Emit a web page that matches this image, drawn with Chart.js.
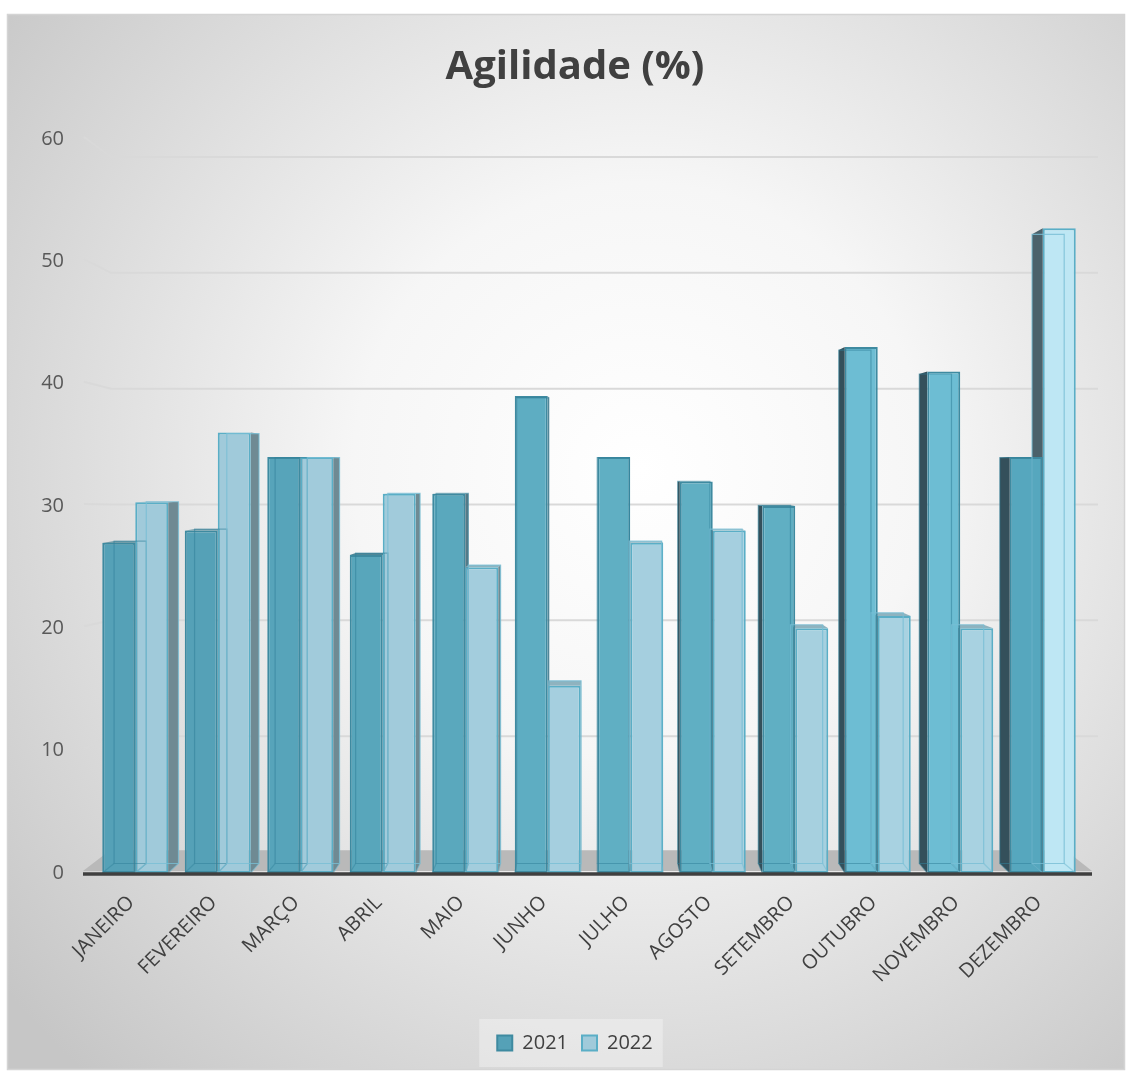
<!DOCTYPE html>
<html lang="pt">
<head>
<meta charset="utf-8">
<title>Agilidade (%)</title>
<script src="https://cdn.jsdelivr.net/npm/chart.js@4.4.1/dist/chart.umd.min.js"></script>
<style>
  html, body { margin: 0; padding: 0; background: #ffffff; }
  #wrap { position: relative; width: 1132px; height: 1075px; }
  canvas { display: block; }
</style>
</head>
<body>
<div id="wrap"><canvas id="chart" width="1132" height="1075"></canvas></div>
<script>
// Monthly agility figures (%)
const months = ['JANEIRO', 'FEVEREIRO', 'MARÇO', 'ABRIL', 'MAIO', 'JUNHO',
                'JULHO', 'AGOSTO', 'SETEMBRO', 'OUTUBRO', 'NOVEMBRO', 'DEZEMBRO'];
const seriesNames = ['2021', '2022'];
const values2021 = [27, 28, 34, 26, 31, 39, 34, 32, 30, 43, 41, 34];
const values2022 = [30.3, 36, 34, 31, 25, 15.3, 27, 28, 20, 21, 20, 52.7];
const yTicks = [0, 10, 20, 30, 40, 50, 60];

// Glass-like face colours, a little brighter where the light catches them
const face2021 = ['#55a1b7', '#55a1b7', '#57a4ba', '#58a6bb', '#5aa8bd', '#5eadc2',
                  '#60afc3', '#60afc3', '#60afc3', '#6dbdd3', '#6dbdd3', '#56a7be'];
const face2022 = ['#a0cada', '#a0cada', '#a1cbdb', '#a1cbdb', '#a3cddd', '#a5cfdf',
                  '#a5cfdf', '#a5cfdf', '#a6d0df', '#a8d2e1', '#a8d2e1', '#bee7f4'];
const edgeColors = ['#3e8aa0', '#5aaec6'];
const sideLeft = ['#34505b', '#4b626b'];
const sideRight = ['#557a87', '#6f8a93'];

const BAR_DEPTH = 0.976;   // back face scale of each bar
const WALL_DEPTH = 0.947;  // back wall / floor scale

function vanish(ca) {
  return { x: ca.left + 0.506 * (ca.right - ca.left), y: ca.top + 0.462 * (ca.bottom - ca.top) };
}
function proj(vp, px, py, k) {
  return [vp.x + (px - vp.x) * k, vp.y + (py - vp.y) * k];
}
function poly(ctx, pts, fill) {
  ctx.beginPath();
  ctx.moveTo(pts[0][0], pts[0][1]);
  for (let i = 1; i < pts.length; i++) ctx.lineTo(pts[i][0], pts[i][1]);
  ctx.closePath();
  ctx.fillStyle = fill;
  ctx.fill();
}

const scene3d = {
  id: 'scene3d',
  beforeDraw(chart) {
    const ctx = chart.ctx;
    ctx.save();
    ctx.fillStyle = '#ffffff';
    ctx.fillRect(0, 0, chart.width, chart.height);
    const fx = 7, fy = 14, fw = 1118, fh = 1056;
    const g = ctx.createRadialGradient(640, 470, 0, 640, 470, 820);
    g.addColorStop(0, '#ffffff');
    g.addColorStop(0.35, '#f6f6f6');
    g.addColorStop(1, '#c6c6c6');
    ctx.fillStyle = g;
    ctx.fillRect(fx, fy, fw, fh);
    ctx.strokeStyle = '#d4d4d4';
    ctx.lineWidth = 1.5;
    ctx.strokeRect(fx + 0.5, fy + 0.5, fw - 1, fh - 1);

    // soft panel behind the legend
    const hb = chart.legend && chart.legend.legendHitBoxes;
    if (hb && hb.length) {
      let minX = Infinity, maxX = -Infinity, minY = Infinity, maxY = -Infinity;
      hb.forEach(b => {
        minX = Math.min(minX, b.left); maxX = Math.max(maxX, b.left + b.width);
        minY = Math.min(minY, b.top); maxY = Math.max(maxY, b.top + b.height);
      });
      ctx.fillStyle = 'rgba(255,255,255,0.32)';
      ctx.fillRect(minX - 18, minY - 14, maxX - minX + 28, maxY - minY + 28);
    }
    ctx.restore();
  },
  beforeDatasetsDraw(chart) {
    const ctx = chart.ctx, ca = chart.chartArea, ys = chart.scales.y;
    const vp = vanish(ca);
    const xl = ca.left - 11, xr = ca.right + 8;
    ctx.save();

    // floor
    const fb = ca.bottom - 2;
    const bl = proj(vp, xl, fb, WALL_DEPTH), br = proj(vp, xr, fb, WALL_DEPTH);
    poly(ctx, [[xl, fb], [xr, fb], br, bl], '#b9b9b9');

    // back wall gridlines with a short side-wall stub
    ctx.strokeStyle = '#d9d9d9';
    ctx.lineWidth = 2;
    yTicks.forEach(v => {
      if (v === 0) return;
      const yf = ys.getPixelForValue(v);
      const b = proj(vp, xl + 1, yf, WALL_DEPTH);
      ctx.beginPath();
      ctx.moveTo(xl + 1, yf - 2);
      ctx.lineTo(b[0], b[1]);
      ctx.lineTo(ca.right + 14, b[1]);
      ctx.stroke();
    });

    // bar depth: side and top faces
    chart.data.datasets.forEach((ds, di) => {
      const meta = chart.getDatasetMeta(di);
      meta.data.forEach((el) => {
        const p = el.getProps(['x', 'y', 'base', 'width'], true);
        const x1 = p.x - p.width / 2, x2 = p.x + p.width / 2;
        const yt = p.y, yb = p.base;
        const a1 = proj(vp, x1, yt, BAR_DEPTH), a2 = proj(vp, x2, yt, BAR_DEPTH);
        const b1 = proj(vp, x1, yb, BAR_DEPTH), b2 = proj(vp, x2, yb, BAR_DEPTH);
        if (p.x < vp.x) {
          poly(ctx, [[x2, yt], a2, b2, [x2, yb]], sideRight[di]);
        } else {
          poly(ctx, [[x1, yt], a1, b1, [x1, yb]], sideLeft[di]);
        }
        if (a1[1] < yt) {
          poly(ctx, [[x1, yt], [x2, yt], a2, a1], di === 0 ? '#4f8797' : '#8fb3bf');
        }
      });
    });
    ctx.restore();
  },
  afterDatasetsDraw(chart) {
    const ctx = chart.ctx, ca = chart.chartArea;
    const vp = vanish(ca);
    ctx.save();
    // back edges seen through the glass faces
    chart.data.datasets.forEach((ds, di) => {
      const meta = chart.getDatasetMeta(di);
      meta.data.forEach((el) => {
        const p = el.getProps(['x', 'y', 'base', 'width'], true);
        const x1 = p.x - p.width / 2, x2 = p.x + p.width / 2;
        const a1 = proj(vp, x1, p.y, BAR_DEPTH), a2 = proj(vp, x2, p.y, BAR_DEPTH);
        const b1 = proj(vp, x1, p.base, BAR_DEPTH), b2 = proj(vp, x2, p.base, BAR_DEPTH);
        ctx.strokeStyle = di === 0 ? 'rgba(50,130,155,0.55)' : 'rgba(120,190,212,0.8)';
        ctx.lineWidth = 1.2;
        ctx.beginPath();
        ctx.moveTo(a1[0], a1[1]); ctx.lineTo(a2[0], a2[1]);
        ctx.lineTo(b2[0], b2[1]); ctx.lineTo(b1[0], b1[1]);
        ctx.closePath();
        ctx.stroke();
        ctx.strokeStyle = di === 0 ? 'rgba(50,130,155,0.45)' : 'rgba(120,190,212,0.6)';
        ctx.beginPath();
        ctx.moveTo(x1, p.base); ctx.lineTo(b1[0], b1[1]);
        ctx.moveTo(x2, p.base); ctx.lineTo(b2[0], b2[1]);
        ctx.stroke();
      });
    });
    // front edge of the floor
    ctx.strokeStyle = '#3f3f3f';
    ctx.lineWidth = 3.5;
    ctx.beginPath();
    ctx.moveTo(ca.left - 11, ca.bottom + 1);
    ctx.lineTo(ca.right + 8, ca.bottom + 1);
    ctx.stroke();
    ctx.restore();
  }
};

Chart.defaults.font.family = "'Open Sans', 'Noto Sans', sans-serif";

new Chart(document.getElementById('chart'), {
  type: 'bar',
  data: {
    labels: months,
    datasets: [
      {
        label: seriesNames[0],
        data: values2021,
        backgroundColor: (c) => face2021[c.dataIndex] || face2021[0],
        borderColor: edgeColors[0],
        borderWidth: 2,
        borderSkipped: false
      },
      {
        label: seriesNames[1],
        data: values2022,
        backgroundColor: (c) => face2022[c.dataIndex] || face2022[0],
        borderColor: edgeColors[1],
        borderWidth: 2,
        borderSkipped: false
      }
    ]
  },
  options: {
    responsive: false,
    animation: false,
    layout: { padding: { left: 18, right: 0, top: 14, bottom: 12 } },
    datasets: { bar: { categoryPercentage: 0.8, barPercentage: 1.0 } },
    plugins: {
      title: {
        display: true,
        text: 'Agilidade (%)',
        color: '#404040',
        font: { size: 40, weight: 'bold' },
        padding: { top: 30, bottom: 47 }
      },
      legend: {
        position: 'bottom',
        labels: {
          color: '#404040',
          font: { size: 20 },
          boxWidth: 15,
          boxHeight: 15,
          padding: 14
        }
      },
      tooltip: { enabled: false }
    },
    scales: {
      x: {
        grid: { display: false, drawTicks: false },
        border: { display: false },
        ticks: {
          color: '#404040',
          font: { size: 20 },
          minRotation: 45,
          maxRotation: 45,
          padding: 18,
          labelOffset: -4
        },
        afterFit(scale) { scale.height = 146; }
      },
      y: {
        min: 0,
        max: 60,
        afterBuildTicks(scale) { scale.ticks = yTicks.map(v => ({ value: v })); },
        grid: { display: false, drawTicks: false },
        border: { display: false },
        ticks: { color: '#595959', font: { size: 20 }, padding: 30 },
        afterFit(scale) { scale.width = 76; }
      },
      // empty right-hand margin beside the plot
      yRight: {
        position: 'right',
        display: true,
        grid: { display: false, drawTicks: false },
        border: { display: false },
        ticks: { display: false },
        afterFit(scale) { scale.width = 48; }
      }
    }
  },
  plugins: [scene3d]
});
</script>
</body>
</html>
